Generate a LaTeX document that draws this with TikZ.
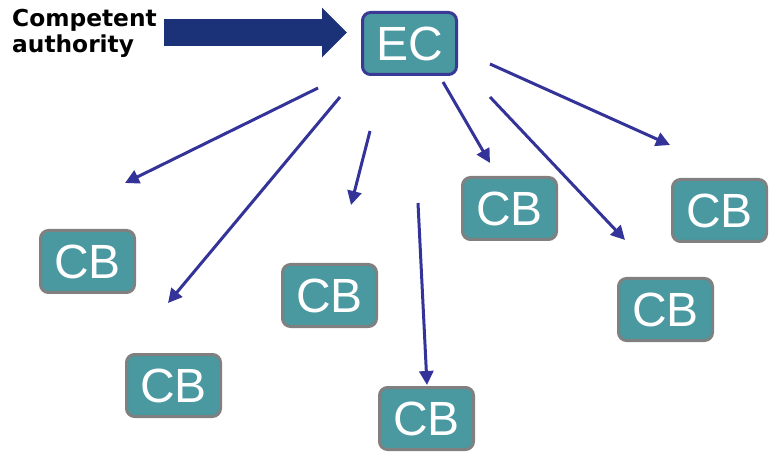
\documentclass[tikz,border=0pt]{standalone}
\usepackage{fontspec}
\setmainfont{Liberation Sans}
\newfontfamily\labelfont{DejaVu Sans}
\usetikzlibrary{arrows.meta}
\definecolor{boxteal}{RGB}{74,152,160}
\definecolor{boxgrey}{RGB}{128,128,128}
\definecolor{ecborder}{RGB}{58,58,150}
\definecolor{linkblue}{RGB}{51,51,153}
\definecolor{navy}{RGB}{27,50,120}
\begin{document}
\begin{tikzpicture}[x=1pt,y=-1pt,
  box/.style={draw=boxgrey, line width=3pt, fill=boxteal, rounded corners=8pt,
    minimum width=94pt, minimum height=62pt, inner sep=0pt, text=white,
    font=\fontsize{48}{48}\selectfont},
  ecbox/.style={box, draw=ecborder},
  link/.style={draw=linkblue, line width=3pt,
    -{Triangle[length=14pt 0 0,width=14pt 0 0]}},
  bigarrow/.style={draw=navy, line width=27pt,
    -{Triangle[length=25pt 0 0,width=48pt 0 0]}},
  authlabel/.style={anchor=north west, inner sep=0pt, align=left,
    font=\labelfont\bfseries\fontsize{23.3}{26}\selectfont}]
\useasboundingbox (0,0) rectangle (779,454);

% label and the arrow that feeds the EC
\node[authlabel] (auth) at (12,9) {Competent\\authority};

% boxes
\node[ecbox] (ec)  at (409.5,43.5) {EC};
\node[box]   (cb1) at (87.5,261.5)  {CB};
\node[box]   (cb2) at (173.5,385.5) {CB};
\node[box]   (cb3) at (329.5,295.5) {CB};
\node[box]   (cb4) at (426.5,418.5) {CB};
\node[box]   (cb5) at (509.5,208.5) {CB};
\node[box]   (cb6) at (665.5,309.5) {CB};
\node[box]   (cb7) at (719.5,210.5) {CB};

\coordinate (bs) at (164,32.5);
\coordinate (be) at (347,32.5);
\draw[bigarrow] (bs) -- (be);

% free-standing connectors fanning out of the EC
\coordinate (s1) at (318,88);  \coordinate (e1) at (125,183);
\coordinate (s2) at (340,97);  \coordinate (e2) at (168,303);
\coordinate (s3) at (370,131); \coordinate (e3) at (351,205);
\coordinate (s4) at (418,203); \coordinate (e4) at (427,385);
\coordinate (s5) at (443,82);  \coordinate (e5) at (490,163);
\coordinate (s6) at (490,97);  \coordinate (e6) at (625,240);
\coordinate (s7) at (490,64);  \coordinate (e7) at (670,145);
\foreach \i in {1,...,7} \draw[link] (s\i) -- (e\i);
\end{tikzpicture}
\end{document}
